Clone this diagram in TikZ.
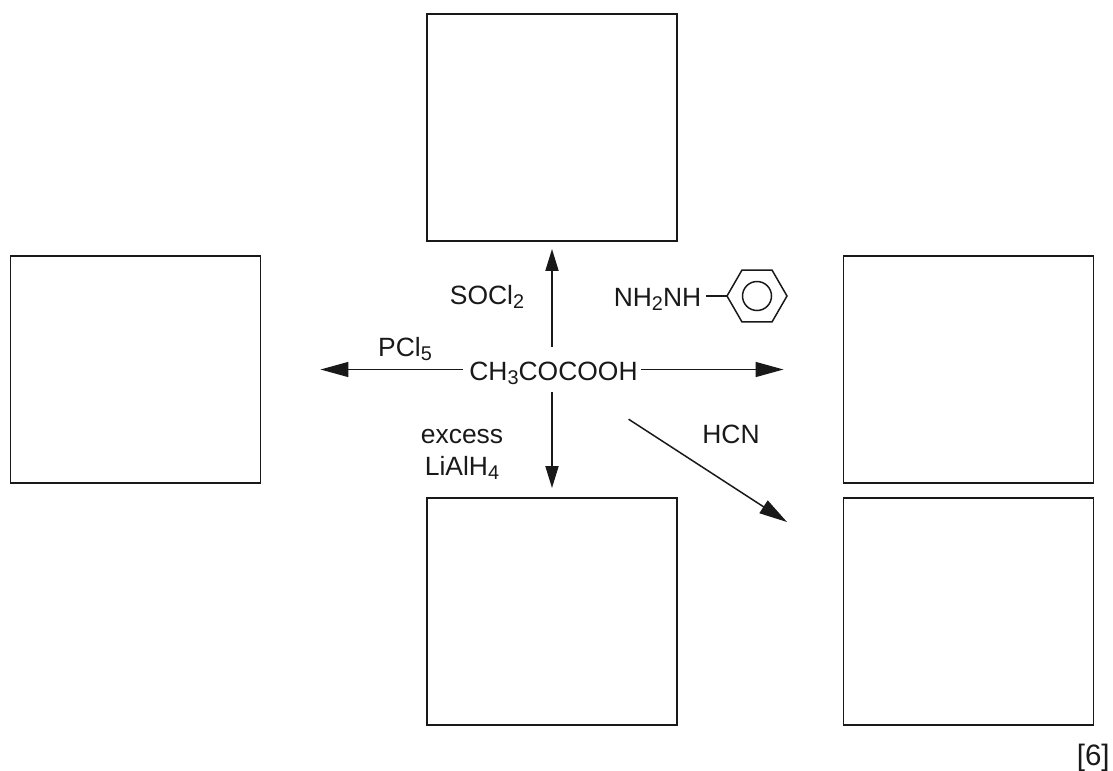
\documentclass[tikz,border=0pt]{standalone}
\usepackage{fontspec}
\setmainfont{Liberation Sans}
\usetikzlibrary{shapes,arrows.meta}
\newcommand{\chemsub}[1]{\raisebox{-2.8pt}{\fontsize{11.3pt}{13pt}\selectfont #1}}

\begin{document}
\begin{tikzpicture}[x=0.02cm,y=-0.02cm,font=\fontsize{15.05pt}{17pt}\selectfont,color=black!90,
    answerbox/.style={draw,line width=0.9pt,minimum width=5cm,minimum height=4.54cm,inner sep=0pt,outer sep=0pt},
    label/.style={anchor=base,inner sep=0pt},
    uparrow/.style={line width=1.1pt,-{Triangle[length=22*0.02cm,width=13*0.02cm]}},
    sidearrow/.style={line width=0.85pt,-{Triangle[length=28*0.02cm,width=15*0.02cm]},shorten >=1.2cm}]
    \useasboundingbox (0,0) rectangle (1113,771);

    % Answer boxes
    \node[answerbox] (topbox) at (552,127.5) {};
    \node[answerbox] (leftbox) at (135.5,369.5) {};
    \node[answerbox] (rightbox) at (968.5,369.5) {};
    \node[answerbox] (bottombox) at (552,611.5) {};
    \node[answerbox] (hcnbox) at (968.5,611.5) {};

    % Starting acid
    \node[inner sep=0pt,outer sep=0pt,minimum width=3.56cm,text height=0.66cm,text depth=0.24cm] (acid) at (552,369.5) {\hspace*{1.7pt}CH\chemsub{3}COCOOH};

    % Arrows
    \draw[uparrow,shorten >=0.16cm] (acid) -- (topbox);
    \draw[uparrow,shorten >=0.2cm] (acid) -- (bottombox);
    \draw[sidearrow] (acid) -- (leftbox);
    \draw[sidearrow] (acid) -- (rightbox);
    \coordinate (hcnend) at (787,522);
    \draw[line width=0.85pt,-{Triangle[length=28*0.02cm,width=15*0.02cm]},shorten <=1cm] (acid) -- (hcnend);

    % Reagents
    \node[label] (socl) at (487,304) {SOCl\chemsub{2}};
    \node[label] (pcl) at (405,356) {PCl\chemsub{5}};
    \node[label] (excess) at (462,443) {excess};
    \node[label] (lialh) at (462,475) {LiAlH\chemsub{4}};
    \node[label] (hcn) at (731,443) {HCN};
    \node[label] (hydrazine) at (657.5,306) {NH\chemsub{2}NH};

    % Benzene ring
    \node[regular polygon,regular polygon sides=6,draw,line width=0.85pt,minimum size=1.2cm,inner sep=0pt,outer sep=0pt] (ring) at (757,296) {};
    \node[circle,draw,line width=0.85pt,minimum size=0.58cm,inner sep=0pt] (ringcircle) at (757,296) {};
    \coordinate (bondstart) at (706,296);
    \draw[line width=0.85pt] (bondstart) -- (ring.corner 3);

    % Marks
    \node[label,anchor=base east,font=\fontsize{16.8pt}{19pt}\selectfont] (marks) at (1110,765) {[6]};
\end{tikzpicture}
\end{document}
